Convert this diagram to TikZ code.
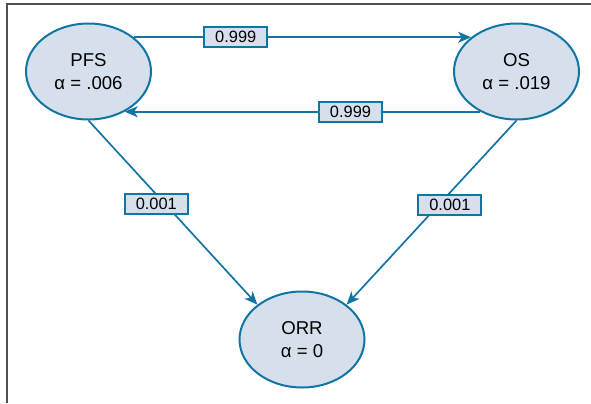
\documentclass[tikz,border=0pt]{standalone}
\usepackage{fontspec}
\setmainfont{Liberation Sans}
\usetikzlibrary{shapes.geometric,arrows.meta}
\definecolor{lineblue}{RGB}{16,117,163}
\definecolor{fillblue}{RGB}{213,224,236}
\definecolor{framegray}{RGB}{80,80,80}
\tikzset{
  state/.style={ellipse, draw=lineblue, line width=1pt, fill=fillblue,
    minimum width=62.5pt, minimum height=48pt, inner sep=0pt, align=center,
    font=\fontsize{9.3}{11.7}\selectfont},
  lab/.style={rectangle, draw=lineblue, line width=1pt, fill=fillblue,
    minimum width=31.5pt, minimum height=10pt, inner sep=0pt,
    font=\fontsize{8.2}{9}\selectfont},
  conn/.style={draw=lineblue, line width=0.85pt,
    -{Stealth[length=6.5pt,width=5.5pt,inset=1.8pt]}},
}
\begin{document}
\begin{tikzpicture}[x=0.5pt,y=-0.5pt]
\useasboundingbox (0,0) rectangle (591,403);
\draw[framegray, line width=1pt] (6.7,403) -- (6.7,4) -- (591,4);
\node[state] (pfs) at (88.5,71.5) {PFS\\α = .006};
\node[state] (os) at (516.5,71.5) {OS\\α = .019};
\node[state] (orr) at (302,339.5) {ORR\\α = 0};
\draw[conn] (pfs.37) -- node[lab, pos=0.302] {0.999} (os.143);
\draw[conn] (os.-132) -- node[lab, pos=0.365] {0.999} (pfs.-48);
\draw[conn] (pfs.south) -- node[lab, pos=0.455, xshift=-4.5pt] {0.001} (orr.142);
\draw[conn] (os.south) -- node[lab, pos=0.457, xshift=5.5pt] {0.001} (orr.38);
\end{tikzpicture}
\end{document}
